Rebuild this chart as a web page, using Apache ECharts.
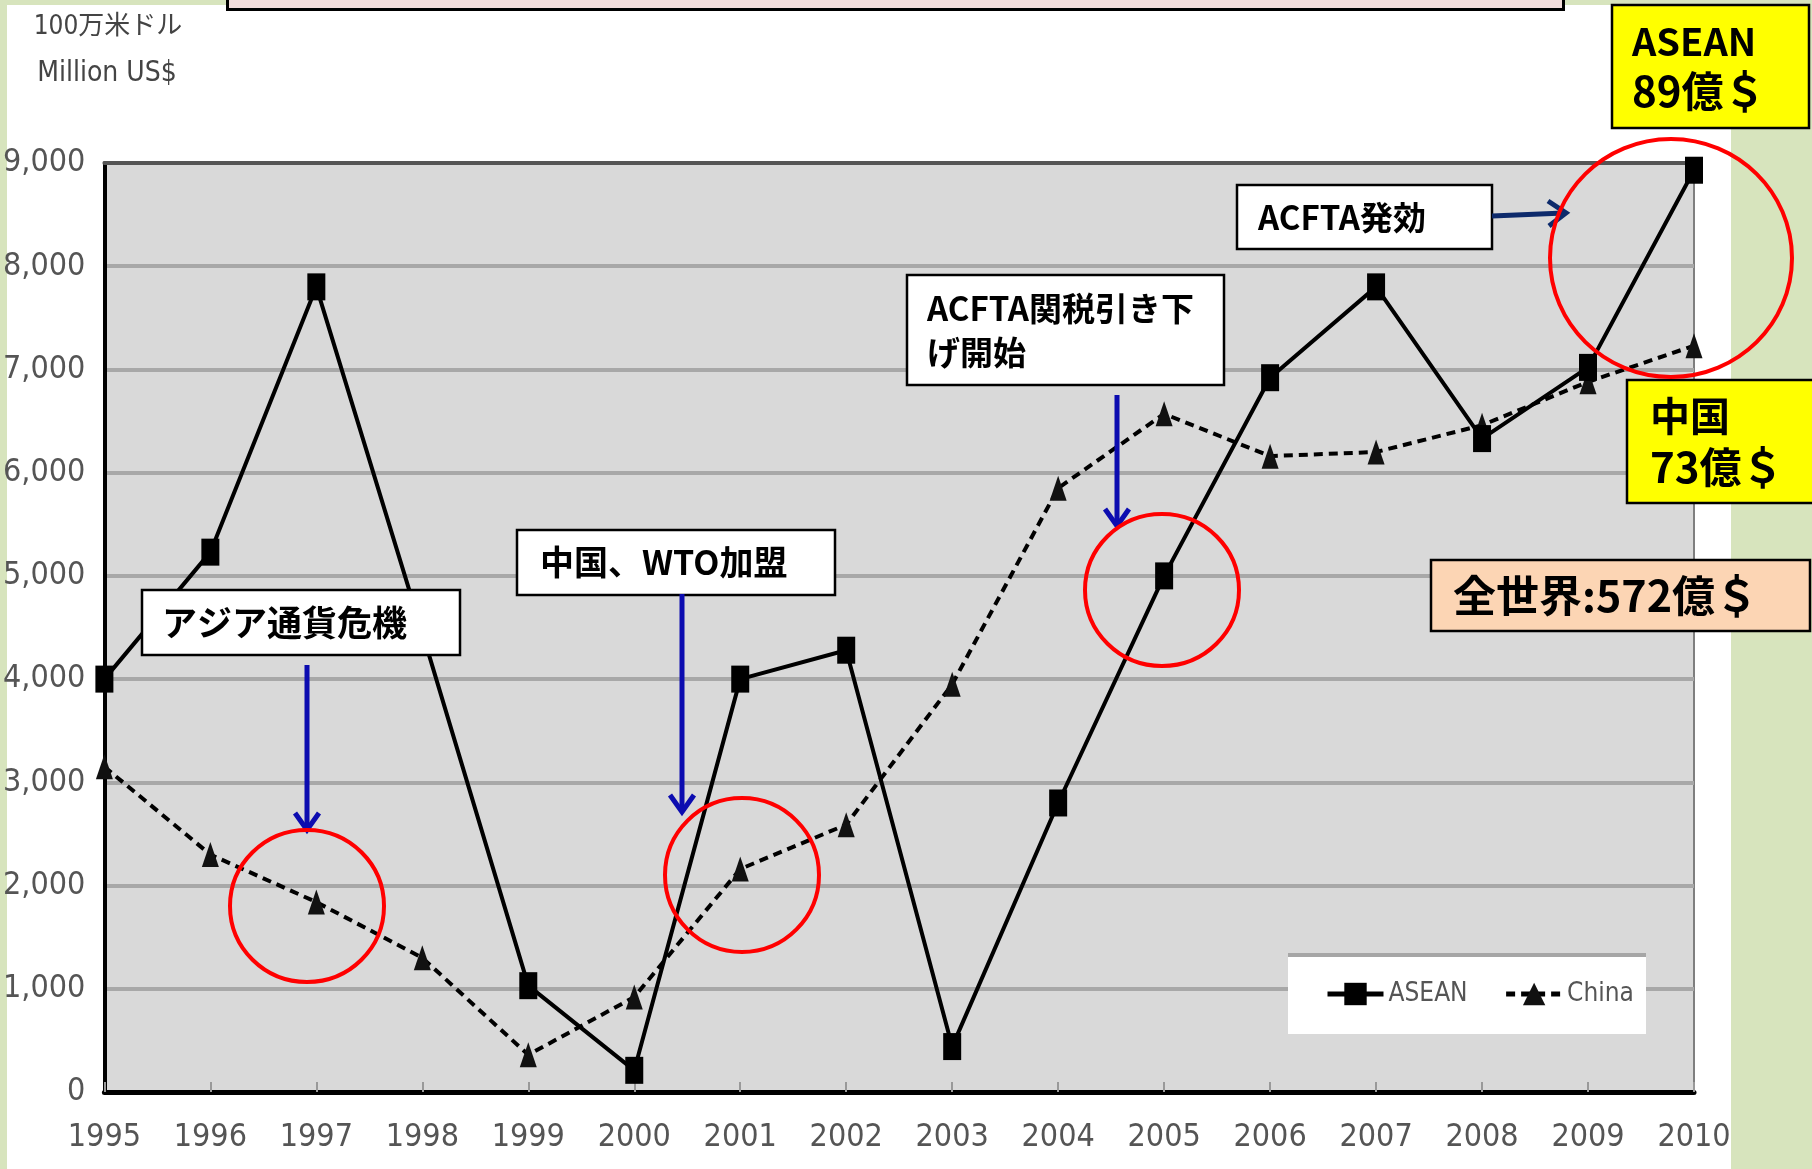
<!DOCTYPE html>
<html>
<head>
<meta charset="utf-8">
<script src="https://cdn.jsdelivr.net/npm/echarts@6/dist/echarts.min.js"></script>
<style>
html,body{margin:0;padding:0;background:#d7e4bd;width:1812px;height:1169px;overflow:hidden;}
#bg{position:absolute;left:7px;top:5px;width:1724px;height:1164px;background:#ffffff;}
#pink{position:absolute;left:226px;top:-10px;width:1333px;height:15px;background:#f2dcdb;border:3px solid #000;}
#c{position:absolute;left:0;top:0;width:1812px;height:1169px;}
</style>
</head>
<body>
<div id="bg"></div>
<div id="pink"></div>
<div id="c"></div>
<script>
// ---- data ----
const years = ['1995','1996','1997','1998','1999','2000','2001','2002','2003','2004','2005','2006','2007','2008','2009','2010'];
const aseanValues = [4000, 5230, 7800, 4450, 1030, 210, 4000, 4280, 440, 2800, 5000, 6920, 7800, 6330, 7020, 8930];
const chinaValues = [3150, 2300, 1840, 1300, 360, 920, 2160, 2590, 3950, 5850, 6570, 6160, 6200, 6460, 6880, 7230];
const yTickLabels = ['0','1,000','2,000','3,000','4,000','5,000','6,000','7,000','8,000','9,000'];
const seriesNames = ['ASEAN', 'China'];
const unitLines = ['100万米ドル', 'Million US$'];

const narrow = '"Liberation Sans Narrow","DejaVu Sans Condensed","Noto Sans","Noto Sans CJK JP",sans-serif';
const jp = '"Noto Sans CJK JP","Noto Sans",sans-serif';

const chart = echarts.init(document.getElementById('c'), null, {renderer: 'canvas'});

function box(x, y, w, h, fill, lines, sizes, lineH, padX) {
  const els = [{
    type: 'rect', z: 100,
    shape: {x: x, y: y, width: w, height: h},
    style: {fill: fill, stroke: '#000', lineWidth: 2.5}
  }];
  const cy = y + h / 2;
  lines.forEach((t, i) => {
    els.push({
      type: 'text', z: 101,
      x: x + padX,
      y: cy + (i - (lines.length - 1) / 2) * lineH,
      style: {text: t, fill: '#000', font: 'bold ' + sizes[i] + 'px ' + jp, textVerticalAlign: 'middle', textAlign: 'left'}
    });
  });
  return els;
}
function arrowDown(x, y1, y2, color) {
  return [
    {type: 'line', z: 100, shape: {x1: x, y1: y1, x2: x, y2: y2 - 2}, style: {stroke: color, lineWidth: 5}},
    {type: 'polyline', z: 100, shape: {points: [[x - 12, y2 - 17], [x, y2], [x + 12, y2 - 17]]}, style: {stroke: color, lineWidth: 5, fill: null}}
  ];
}
function ellipse(cx, cy, rx, ry) {
  return {type: 'ellipse', z: 110, shape: {cx: cx, cy: cy, rx: rx, ry: ry}, style: {fill: null, stroke: '#ff0000', lineWidth: 4}};
}

let graphics = [];
// unit title
graphics.push({type: 'text', z: 100, x: 108, y: 27, style: {text: unitLines[0], fill: '#444', font: '26px ' + narrow, textAlign: 'center', textVerticalAlign: 'middle'}});
graphics.push({type: 'text', z: 100, x: 107, y: 74, style: {text: unitLines[1], fill: '#444', font: '28px ' + narrow, textAlign: 'center', textVerticalAlign: 'middle'}});
// legend box
graphics.push({type: 'rect', z: 1, shape: {x: 1288, y: 954, width: 358, height: 80}, style: {fill: '#ffffff'}});
graphics.push({type: 'line', z: 1, shape: {x1: 1288, y1: 955, x2: 1646, y2: 955}, style: {stroke: '#a6a6a6', lineWidth: 4}});
// annotation boxes
graphics = graphics.concat(box(142, 590, 318, 65, '#ffffff', ['アジア通貨危機'], [35], 0, 20));
graphics = graphics.concat(box(517, 530, 318, 65, '#ffffff', ['中国、WTO加盟'], [34], 0, 23));
graphics = graphics.concat(box(907, 275, 317, 110, '#ffffff', ['ACFTA関税引き下', 'げ開始'], [33, 33], 44, 20));
graphics = graphics.concat(box(1237, 185, 255, 64, '#ffffff', ['ACFTA発効'], [33], 0, 21));
graphics = graphics.concat(box(1612, 5, 197, 123, '#ffff00', ['ASEAN', '89億＄'], [38, 42], 50, 20));
graphics = graphics.concat(box(1627, 380, 190, 123, '#ffff00', ['中国', '73億＄'], [40, 42], 52, 23));
graphics = graphics.concat(box(1431, 560, 379, 71, '#fcd5b4', ['全世界:572億＄'], [43], 0, 22));
// arrows
graphics = graphics.concat(arrowDown(307, 665, 830, '#0c0cb0'));
graphics = graphics.concat(arrowDown(682, 594, 812, '#0c0cb0'));
graphics = graphics.concat(arrowDown(1117, 395, 526, '#0c0cb0'));
graphics.push({type: 'line', z: 100, shape: {x1: 1492, y1: 216, x2: 1564, y2: 213}, style: {stroke: '#0d2a6b', lineWidth: 5}});
graphics.push({type: 'polyline', z: 100, shape: {points: [[1548, 201], [1566, 213], [1549, 226]]}, style: {stroke: '#0d2a6b', lineWidth: 5, fill: null}});
// circles
graphics.push(ellipse(307, 906, 77, 76));
graphics.push(ellipse(742, 875, 77, 77));
graphics.push(ellipse(1162, 590, 77, 76));
graphics.push(ellipse(1671, 258, 121, 119));

chart.setOption({
  backgroundColor: 'transparent',
  animation: false,
  grid: {left: 103, right: 118, top: 163, bottom: 77, show: true, backgroundColor: '#d9d9d9', borderColor: '#7f7f7f', borderWidth: 2},
  legend: {
    data: seriesNames, left: 1325, top: 981, itemWidth: 56, itemHeight: 28, itemGap: 36, z: 20,
    lineStyle: {width: 5},
    textStyle: {fontFamily: narrow, fontSize: 26, color: '#555'}, padding: 0
  },
  xAxis: [{
    type: 'category', data: years, boundaryGap: false, position: 'bottom',
    axisLine: {show: true, lineStyle: {color: '#000', width: 5}},
    axisTick: {show: true, inside: true, length: 10, lineStyle: {color: '#999', width: 2}},
    axisLabel: {fontFamily: narrow, fontSize: 32, color: '#555', margin: 30},
    splitLine: {show: false}
  }, {
    type: 'category', data: years, boundaryGap: false, position: 'top',
    axisLine: {show: true, lineStyle: {color: '#555', width: 4}},
    axisTick: {show: false}, axisLabel: {show: false}, splitLine: {show: false}
  }],
  yAxis: {
    type: 'value', min: 0, max: 9000, interval: 1000,
    axisLine: {show: true, lineStyle: {color: '#000', width: 4}},
    axisTick: {show: false},
    axisLabel: {fontFamily: narrow, fontSize: 32, color: '#555', margin: 19, formatter: v => yTickLabels[Math.round(v / 1000)]},
    splitLine: {show: true, lineStyle: {color: '#a8a8a8', width: 4}}
  },
  series: [{
    name: seriesNames[0], type: 'line', data: aseanValues, z: 4,
    symbol: 'rect', symbolSize: [18, 27], showAllSymbol: true,
    lineStyle: {color: '#000', width: 4}, itemStyle: {color: '#000'}
  }, {
    name: seriesNames[1], type: 'line', data: chinaValues, z: 3,
    symbol: 'triangle', symbolSize: [17, 25], showAllSymbol: true,
    lineStyle: {color: '#000', width: 4, type: [9, 6]}, itemStyle: {color: '#111'}
  }],
  graphic: {elements: graphics}
});
</script>
</body>
</html>
